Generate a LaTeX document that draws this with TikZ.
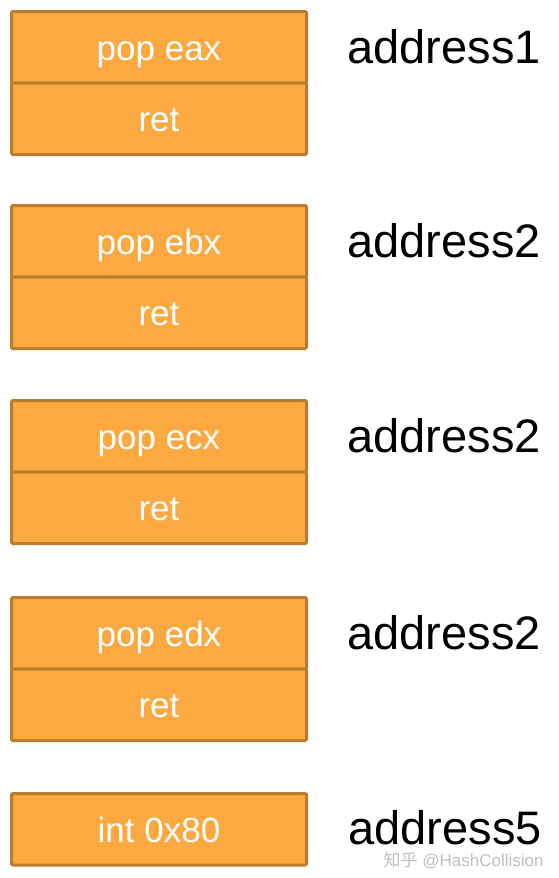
\documentclass[tikz,border=0pt]{standalone}
\usepackage{fontspec}
\setmainfont{Liberation Sans}
\newfontfamily\cjkfont{Noto Sans CJK SC}
\definecolor{cellfill}{RGB}{251,169,64}
\definecolor{celledge}{RGB}{186,125,45}
\tikzset{
	cell/.style={draw=celledge, fill=cellfill, line width=1.5pt, rounded corners=0.6pt,
		minimum width=147.5pt, minimum height=35.75pt, inner sep=0pt, outer sep=0pt,
		text height=13pt, text depth=0pt,
		text=white, font=\fontsize{17.5}{20}\selectfont},
	addr/.style={anchor=west, inner sep=0pt, font=\fontsize{23.5}{27}\selectfont},
}
\begin{document}
\begin{tikzpicture}[x=0.5pt, y=-0.5pt]
		\useasboundingbox (0,0) rectangle (558,878);
		% gadget chain, one block per gadget
		\foreach \n/\y/\t/\a in {%
			1/11.5/pop eax/address1,
			2/205.5/pop ebx/address2,
			3/400.5/pop ecx/address2,
			4/597.5/pop edx/address2} {
			\node[cell, anchor=north west] (pop\n) at (11.5,\y) {\t};
			\node[cell, anchor=north] (ret\n) at (pop\n.south) {ret};
			\node[addr] (addr\n) at (347,\y+35) {\a};
		}
		% last gadget
		\node[cell, anchor=north west] (int5) at (11.5,793.5) {int 0x80};
		\node[addr] (addr5) at (348,828) {address5};
		% watermark
		\node[anchor=east, inner sep=0pt, text=black!25, font=\fontsize{8.5}{10}\selectfont]
		(mark) at (544,861) {{\cjkfont 知乎} @HashCollision};
	\end{tikzpicture}
\end{document}
